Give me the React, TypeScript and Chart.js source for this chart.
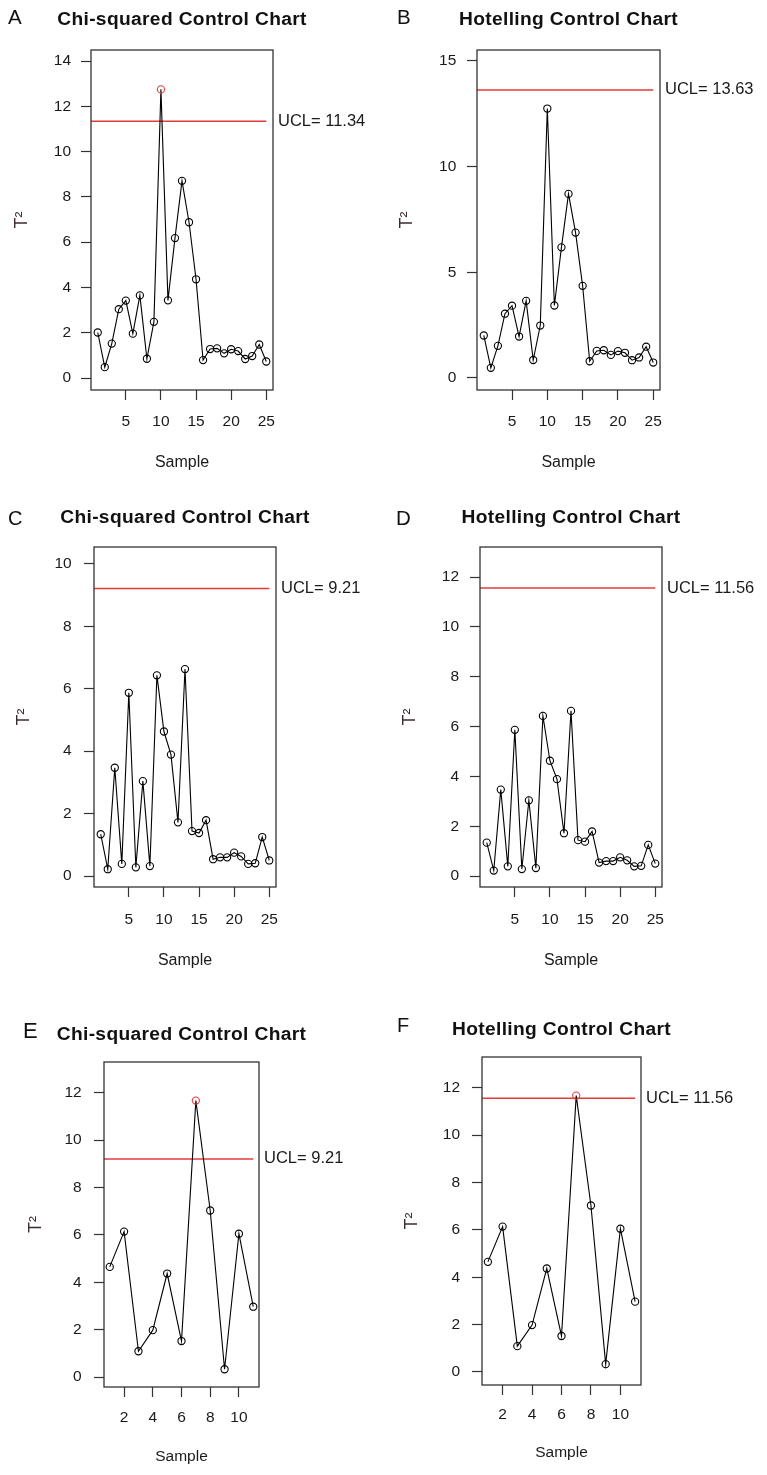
import React, { useEffect, useRef } from "react";
import { Chart, registerables } from "chart.js";

Chart.register(...registerables);

// ---------- data ----------
const samples25 = [1, 2, 3, 4, 5, 6, 7, 8, 9, 10, 11, 12, 13, 14, 15, 16, 17, 18, 19, 20, 21, 22, 23, 24, 25];
const samples11 = [1, 2, 3, 4, 5, 6, 7, 8, 9, 10, 11];

// Panels A and B (same statistic values)
const t2SetAB = [2.01, 0.48, 1.52, 3.04, 3.42, 1.96, 3.65, 0.85, 2.48, 12.75, 3.43, 6.18, 8.71, 6.88, 4.36, 0.79, 1.28, 1.31, 1.09, 1.27, 1.19, 0.84, 0.97, 1.48, 0.73];
// Panels C and D
const t2SetCD = [1.34, 0.22, 3.47, 0.39, 5.87, 0.28, 3.04, 0.32, 6.43, 4.63, 3.89, 1.72, 6.63, 1.44, 1.38, 1.79, 0.54, 0.6, 0.6, 0.75, 0.63, 0.39, 0.41, 1.25, 0.5];
// Panels E and F
const t2SetEF = [4.65, 6.14, 1.09, 1.98, 4.37, 1.52, 11.67, 7.03, 0.33, 6.05, 2.97];

const uclValues = [11.34, 13.63, 9.21, 11.56, 9.21, 11.56];
const panelLetters = ["A", "B", "C", "D", "E", "F"];
const panelTitles = [
  "Chi-squared Control Chart",
  "Hotelling Control Chart",
  "Chi-squared Control Chart",
  "Hotelling Control Chart",
  "Chi-squared Control Chart",
  "Hotelling Control Chart",
];

const xTicks25 = [5, 10, 15, 20, 25];
const xTicks11 = [2, 4, 6, 8, 10];
const yTicksA = [0, 2, 4, 6, 8, 10, 12, 14];
const yTicksB = [0, 5, 10, 15];
const yTicksC = [0, 2, 4, 6, 8, 10];
const yTicksD = [0, 2, 4, 6, 8, 10, 12];
const yTicksEF = [0, 2, 4, 6, 8, 10, 12];

const yRanges = [
  [-0.53, 14.49],
  [-0.57, 15.52],
  [-0.35, 10.54],
  [-0.44, 13.21],
  [-0.42, 13.3],
  [-0.55, 13.3],
];

// ---------- layout / style ----------
const FONT = '"Liberation Sans", Arial, Helvetica, sans-serif';
const RED = "#e23a3a";
const INK = "#1a1a1a";
const FRAME = "#333333";
const X_AXIS_H = 85;

type PanelLayout = {
  cell: [number, number, number, number]; // x, y, w, h
  box: [number, number, number, number]; // left, top, right, bottom (page coords)
  yTitlePad: number;
  yTickPad: number;
  xTickPad: number;
  xTitlePad: number;
  titleCenter: number; // relative to cell top
  letterX: number;
  letterY: number;
  letterSize: number;
};

const layouts: PanelLayout[] = [
  { cell: [0, 0, 384, 480], box: [91, 50, 273, 390], yTitlePad: 11.4, yTickPad: 10, xTickPad: 12.7, xTitlePad: 2.4, titleCenter: 20, letterX: 8, letterY: 24, letterSize: 20.5 },
  { cell: [384, 0, 383, 480], box: [477, 50, 660, 390], yTitlePad: 12.4, yTickPad: 10.7, xTickPad: 12.4, xTitlePad: 2.4, titleCenter: 20, letterX: 13, letterY: 24, letterSize: 20.5 },
  { cell: [0, 480, 384, 500], box: [94, 547, 276, 887], yTitlePad: 13.4, yTickPad: 12.3, xTickPad: 13.7, xTitlePad: 1.4, titleCenter: 38, letterX: 8, letterY: 45, letterSize: 20 },
  { cell: [384, 480, 383, 500], box: [480, 547, 662, 887], yTitlePad: 15, yTickPad: 11, xTickPad: 13.7, xTitlePad: 1.4, titleCenter: 38, letterX: 12, letterY: 45, letterSize: 20.5 },
  { cell: [0, 980, 384, 495], box: [104, 1062, 259, 1387], yTitlePad: 24.9, yTickPad: 12.3, xTickPad: 11.7, xTitlePad: 6, titleCenter: 55, letterX: 23, letterY: 58, letterSize: 22 },
  { cell: [384, 980, 383, 495], box: [482, 1057, 641, 1385], yTitlePad: 17.4, yTickPad: 12, xTickPad: 10.7, xTitlePad: 7.7, titleCenter: 50, letterX: 13, letterY: 52, letterSize: 20 },
];

const panelData = [
  { samples: samples25, values: t2SetAB, xTicks: xTicks25, yTicks: yTicksA, xRange: [0.04, 25.96] },
  { samples: samples25, values: t2SetAB, xTicks: xTicks25, yTicks: yTicksB, xRange: [0.04, 25.96] },
  { samples: samples25, values: t2SetCD, xTicks: xTicks25, yTicks: yTicksC, xRange: [0.04, 25.96] },
  { samples: samples25, values: t2SetCD, xTicks: xTicks25, yTicks: yTicksD, xRange: [0.04, 25.96] },
  { samples: samples11, values: t2SetEF, xTicks: xTicks11, yTicks: yTicksEF, xRange: [0.6, 11.4] },
  { samples: samples11, values: t2SetEF, xTicks: xTicks11, yTicks: yTicksEF, xRange: [0.6, 11.4] },
];

const decorPlugin = {
  id: "panelDecor",
  afterDraw(chart: any, _args: any, opts: any) {
    const { ctx, chartArea } = chart;
    const { left, top, right, bottom } = chartArea;
    ctx.save();
    ctx.strokeStyle = FRAME;
    ctx.lineWidth = 1.3;
    ctx.strokeRect(left, top, right - left, bottom - top);

    // UCL label
    const yPix = chart.scales.y.getPixelForValue(opts.ucl);
    ctx.fillStyle = INK;
    ctx.font = `16.5px ${FONT}`;
    ctx.textAlign = "left";
    ctx.textBaseline = "middle";
    ctx.fillText(`UCL= ${opts.ucl}`, right + 5, yPix);

    // main title
    ctx.font = `bold 19.2px ${FONT}`;
    ctx.fillStyle = "#111";
    ctx.textAlign = "center";
    ctx.textBaseline = "middle";
    try {
      (ctx as any).letterSpacing = "0.35px";
    } catch (e) {}
    ctx.fillText(opts.title, (left + right) / 2, opts.titleCenter);
    try {
      (ctx as any).letterSpacing = "0px";
    } catch (e) {}

    // panel letter
    ctx.font = `${opts.letterSize}px ${FONT}`;
    ctx.textAlign = "left";
    ctx.textBaseline = "alphabetic";
    ctx.fillStyle = "#111";
    ctx.fillText(opts.letter, opts.letterX, opts.letterY);
    ctx.restore();
  },
};

function Panel({ idx }: { idx: number }) {
  const ref = useRef<HTMLCanvasElement | null>(null);
  const L = layouts[idx];
  const D = panelData[idx];
  const ucl = uclValues[idx];
  const [cx, cy, cw, ch] = L.cell;
  const [bl, bt, br, bb] = L.box;

  useEffect(() => {
    if (!ref.current) return;
    const yAxisW = bl - cx;

    const points = D.samples.map((s, i) => ({ x: s, y: D.values[i] }));
    const n = D.samples[D.samples.length - 1];

    const chart = new Chart(ref.current, {
      type: "line",
      data: {
        datasets: [
          {
            data: points,
            borderColor: "#000",
            borderWidth: 1.1,
            pointRadius: 3.6,
            pointBorderWidth: 1.1,
            pointBackgroundColor: "rgba(0,0,0,0)",
            pointBorderColor: D.values.map((v) => (v > ucl ? RED : "#000")),
            tension: 0,
          },
          {
            data: [
              { x: D.xRange[0], y: ucl },
              { x: n, y: ucl },
            ],
            borderColor: RED,
            borderWidth: 1.5,
            pointRadius: 0,
          },
        ],
      },
      options: {
        animation: false,
        responsive: false,
        devicePixelRatio: 1,
        events: [],
        layout: {
          padding: {
            left: 0,
            top: bt - cy,
            right: cw - (br - cx),
            bottom: ch - (bb - cy) - X_AXIS_H,
          },
        },
        plugins: {
          legend: { display: false },
          tooltip: { enabled: false },
          title: { display: false },
          panelDecor: {
            ucl,
            title: panelTitles[idx],
            titleCenter: L.titleCenter,
            letter: panelLetters[idx],
            letterX: L.letterX,
            letterY: L.letterY,
            letterSize: L.letterSize,
          },
        } as any,
        scales: {
          x: {
            type: "linear",
            min: D.xRange[0],
            max: D.xRange[1],
            afterBuildTicks: (s: any) => {
              s.ticks = D.xTicks.map((v) => ({ value: v }));
            },
            afterFit: (s: any) => {
              s.height = X_AXIS_H;
            },
            grid: { drawOnChartArea: false, drawTicks: true, tickLength: 10, tickColor: FRAME, tickWidth: 1.2 },
            border: { display: false },
            ticks: {
              autoSkip: false,
              maxRotation: 0,
              minRotation: 0,
              padding: L.xTickPad,
              color: INK,
              font: { family: FONT, size: 15.5 },
              callback: (v: any) => String(v),
            },
            title: {
              display: true,
              text: "Sample",
              color: INK,
              font: { family: FONT, size: idx >= 4 ? 15.5 : 16 },
              padding: { top: 0, bottom: L.xTitlePad },
            },
          },
          y: {
            type: "linear",
            min: yRanges[idx][0],
            max: yRanges[idx][1],
            afterBuildTicks: (s: any) => {
              s.ticks = D.yTicks.map((v) => ({ value: v }));
            },
            afterFit: (s: any) => {
              s.width = yAxisW;
            },
            grid: { drawOnChartArea: false, drawTicks: true, tickLength: 10, tickColor: FRAME, tickWidth: 1.2 },
            border: { display: false },
            ticks: {
              autoSkip: false,
              padding: L.yTickPad,
              color: INK,
              font: { family: FONT, size: 15.5 },
              callback: (v: any) => String(v),
            },
            title: {
              display: true,
              text: "T²",
              color: "#3a2c2c",
              font: { family: FONT, size: 18 },
              padding: { top: L.yTitlePad, bottom: 0 },
            },
          },
        },
      } as any,
      plugins: [decorPlugin],
    });
    return () => chart.destroy();
  }, [idx]);

  return (
    <div style={{ position: "absolute", left: cx, top: cy, width: cw, height: ch }}>
      <canvas ref={ref} width={cw} height={ch} style={{ width: cw, height: ch, display: "block" }} />
    </div>
  );
}

export default function App() {
  return (
    <div
      style={{
        position: "absolute",
        left: 0,
        top: 0,
        width: 767,
        height: 1475,
        background: "#fff",
        overflow: "hidden",
      }}
    >
      {[0, 1, 2, 3, 4, 5].map((i) => (
        <Panel key={i} idx={i} />
      ))}
    </div>
  );
}
